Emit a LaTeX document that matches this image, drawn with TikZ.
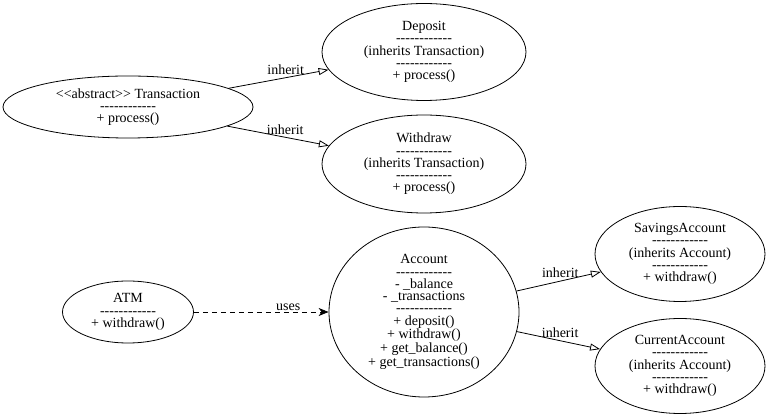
\documentclass[tikz,border=0pt]{standalone}
\usepackage{fontspec}
\setmainfont{Liberation Serif}[Ligatures=TeXOff]
\usetikzlibrary{shapes.geometric,arrows.meta}
\newcommand{\sepline}{------------}

\begin{document}
\begin{tikzpicture}[x=1pt,y=1pt,
    cls/.style={draw, ellipse, inner sep=0pt, align=center, line width=0.8pt,
        font=\fontsize{14}{12.3}\selectfont},
    inherit/.style={-{Triangle[open,length=10pt,width=7pt]}, line width=0.8pt},
    uses/.style={-{Stealth[length=10pt,width=8pt,inset=3pt]}, line width=0.8pt,
        dash pattern=on 5pt off 4pt},
    lbl/.style={font=\fontsize{14}{14}\selectfont, inner sep=1pt}]
    \useasboundingbox (0,0) rectangle (768,420);

    % Transaction hierarchy
    \node[cls, minimum width=250pt, minimum height=62pt] (trans) at (128,313)
        {<<abstract>> Transaction\\\sepline\\+ process()};
    \node[cls, minimum width=204pt, minimum height=97pt] (dep) at (424,368)
        {Deposit\\\sepline\\(inherits Transaction)\\\sepline\\+ process()};
    \node[cls, minimum width=204pt, minimum height=98pt] (wd) at (424,256)
        {Withdraw\\\sepline\\(inherits Transaction)\\\sepline\\+ process()};
    \draw[inherit] (trans) -- node[lbl, above=2pt, pos=0.57]{inherit} (dep);
    \draw[inherit] (trans) -- node[lbl, above=1pt, pos=0.57]{inherit} (wd);

    % Account hierarchy
    \node[cls, minimum width=131pt, minimum height=62pt] (atm) at (128,108)
        {ATM\\\sepline\\+ withdraw()};
    \node[cls, minimum width=190pt, minimum height=170pt] (acct) at (424,108)
        {Account\\\sepline\\- \_balance\\- \_transactions\\\sepline\\+ deposit()\\+ withdraw()\\+ get\_balance()\\+ get\_transactions()};
    \node[cls, minimum width=170pt, minimum height=95pt] (sav) at (680,166)
        {SavingsAccount\\\sepline\\(inherits Account)\\\sepline\\+ withdraw()};
    \node[cls, minimum width=170pt, minimum height=95pt] (cur) at (680,54)
        {CurrentAccount\\\sepline\\(inherits Account)\\\sepline\\+ withdraw()};
    \draw[uses] (atm) -- node[lbl, above, pos=0.7]{uses} (acct);
    \draw[inherit] (acct) -- node[lbl, above=2pt, pos=0.52]{inherit} (sav);
    \draw[inherit] (acct) -- node[lbl, above=2pt, pos=0.52]{inherit} (cur);
\end{tikzpicture}
\end{document}
